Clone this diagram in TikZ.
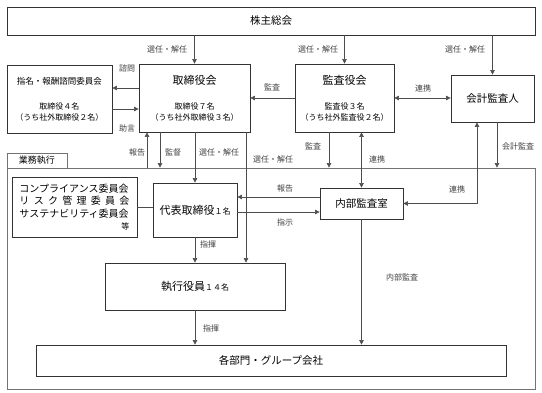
\documentclass[tikz,border=0pt]{standalone}
\usepackage{fontspec}
\setmainfont{Noto Sans CJK JP}
\usetikzlibrary{arrows.meta}

\begin{document}
\begin{tikzpicture}[x=1pt, y=-1pt]
    \tikzstyle{block} = [rectangle, draw=black!80, line width=0.8pt, align=center, inner sep=0pt, font=\fontsize{8}{11}\selectfont]
    \tikzstyle{frame} = [rectangle, draw=black!55, line width=0.8pt, inner sep=0pt]
    \tikzstyle{arrow} = [->, >={Triangle[length=4.5pt,width=4.5pt]}, draw=black!70, line width=0.6pt]
    \tikzstyle{link} = [-, draw=black!70, line width=0.6pt]
    \tikzstyle{lbl} = [inner sep=0pt, text=black!75, font=\fontsize{8}{10}\selectfont]
    \tikzstyle{big} = [font=\fontsize{10.5}{13}\selectfont]

    \useasboundingbox (0,0) rectangle (542,393);

    % upper organs
    \node [block, big, minimum width=528pt, minimum height=28pt] (soukai) at (271,21) {株主総会};
    \node [block, minimum width=111pt, minimum height=68pt] (torishimari) at (194.5,98) {{\fontsize{11}{13}\selectfont 取締役会}\\[14pt]取締役７名\\（うち社外取締役３名）};
    \node [block, minimum width=105pt, minimum height=68pt] (shimon) at (59.5,99) {{\fontsize{8.5}{11}\selectfont 指名・報酬諮問委員会}\\[14pt]取締役４名\\（うち社外取締役２名）};
    \node [block, minimum width=99pt, minimum height=68pt] (kansayaku) at (344.5,98) {{\fontsize{11}{13}\selectfont 監査役会}\\[14pt]監査役３名\\（うち社外監査役２名）};
    \node [block, big, minimum width=83pt, minimum height=47pt] (kaikei) at (492.5,98.5) {会計監査人};

    % execution frame
    \node [frame, minimum width=528pt, minimum height=221pt] (gyomu) at (271,278.5) {};
    \node [frame, minimum width=60pt, minimum height=15pt, font=\fontsize{9}{11}\selectfont] (gyomuTab) at (37,160.5) {業務執行};

    \node [block, minimum width=125pt, minimum height=60pt, text width=110pt, align=left, font=\fontsize{10}{12.3}\selectfont] (iinkai) at (74.5,207) {コンプライアンス委員会\\\leavevmode\hbox to 110pt{リ\hfill ス\hfill ク\hfill 管\hfill 理\hfill 委\hfill 員\hfill 会}\\サステナビリティ委員会\\\leavevmode\hbox to 110pt{\hfill\fontsize{8}{10}\selectfont 等}};
    \node [block, minimum width=84pt, minimum height=54pt] (daihyo) at (195,210) {{\fontsize{11}{13}\selectfont 代表取締役}１名};
    \node [block, big, minimum width=83pt, minimum height=31pt] (naibu) at (361.5,203.5) {内部監査室};
    \node [block, minimum width=180pt, minimum height=47pt] (shikko) at (195,286.5) {{\fontsize{11}{13}\selectfont 執行役員}１４名};
    \node [block, big, minimum width=470pt, minimum height=31pt] (kakubu) at (271,360.5) {各部門・グループ会社};

    % helper columns and rows
    \coordinate (shimonY) at (0,88);
    \coordinate (jogenY) at (0,109);
    \coordinate (hokokuY) at (0,197);
    \coordinate (shijiY) at (0,212);
    \coordinate (hokokuX) at (147,0);
    \coordinate (kantokuX) at (160,0);
    \coordinate (senninX) at (246,0);
    \coordinate (kansaX) at (329,0);
    \coordinate (renkeiX) at (477,0);
    \coordinate (kaikeiX) at (497,0);

    % connectors
    \draw [arrow] (soukai.south -| torishimari.north) -- (torishimari.north);
    \draw [arrow] (soukai.south -| kansayaku.north) -- (kansayaku.north);
    \draw [arrow] (soukai.south -| kaikei.north) -- (kaikei.north);
    \draw [arrow] (torishimari.west |- shimonY) -- (shimon.east |- shimonY);
    \draw [arrow] (shimon.east |- jogenY) -- (torishimari.west |- jogenY);
    \draw [arrow] (kansayaku.west) -- (torishimari.east);
    \draw [arrow, <->] (kansayaku.east) -- (kaikei.west |- kansayaku.east);
    \draw [arrow] (gyomu.north -| hokokuX) -- (torishimari.south -| hokokuX);
    \draw [arrow] (torishimari.south -| kantokuX) -- (gyomu.north -| kantokuX);
    \draw [arrow] (torishimari.south -| daihyo.north) -- (daihyo.north);
    \draw [arrow] (torishimari.south -| senninX) -- (shikko.north -| senninX);
    \draw [arrow] (kansayaku.south -| kansaX) -- (gyomu.north -| kansaX);
    \draw [arrow, <->] (kansayaku.south -| naibu.north) -- (naibu.north);
    \draw [arrow] (kaikei.south -| kaikeiX) -- (gyomu.north -| kaikeiX);
    \draw [arrow, <->] (naibu.east) -- (renkeiX |- naibu.east) -- (kaikei.south -| renkeiX);
    \draw [arrow] (naibu.west |- hokokuY) -- (daihyo.east |- hokokuY);
    \draw [arrow] (daihyo.east |- shijiY) -- (naibu.west |- shijiY);
    \draw [link] (iinkai.east) -- (daihyo.west |- iinkai.east);
    \draw [arrow] (daihyo.south) -- (shikko.north -| daihyo.south);
    \draw [arrow] (shikko.south) -- (kakubu.north -| shikko.south);
    \draw [arrow] (naibu.south) -- (kakubu.north -| naibu.south);

    % labels
    \node [lbl] (lSennin1) at (167,49) {選任・解任};
    \node [lbl] (lSennin2) at (318,49) {選任・解任};
    \node [lbl] (lSennin3) at (465,49) {選任・解任};
    \node [lbl] (lShimon) at (127,68) {諮問};
    \node [lbl] (lJogen) at (127,128) {助言};
    \node [lbl] (lKansa1) at (272,87) {監査};
    \node [lbl] (lRenkei1) at (423,88) {連携};
    \node [lbl] (lHokoku1) at (137,152) {報告};
    \node [lbl] (lKantoku) at (173,152) {監督};
    \node [lbl] (lSennin4) at (219,152) {選任・解任};
    \node [lbl] (lSennin5) at (273,159) {選任・解任};
    \node [lbl] (lKansa2) at (313,146) {監査};
    \node [lbl] (lRenkei2) at (377,159) {連携};
    \node [lbl] (lKaikei) at (518,146) {会計監査};
    \node [lbl] (lHokoku2) at (285,188) {報告};
    \node [lbl] (lShiji) at (285,222) {指示};
    \node [lbl] (lRenkei3) at (457,189) {連携};
    \node [lbl] (lShiki1) at (208,244) {指揮};
    \node [lbl] (lNaibu) at (402,277) {内部監査};
    \node [lbl] (lShiki2) at (211,328) {指揮};
\end{tikzpicture}
\end{document}
